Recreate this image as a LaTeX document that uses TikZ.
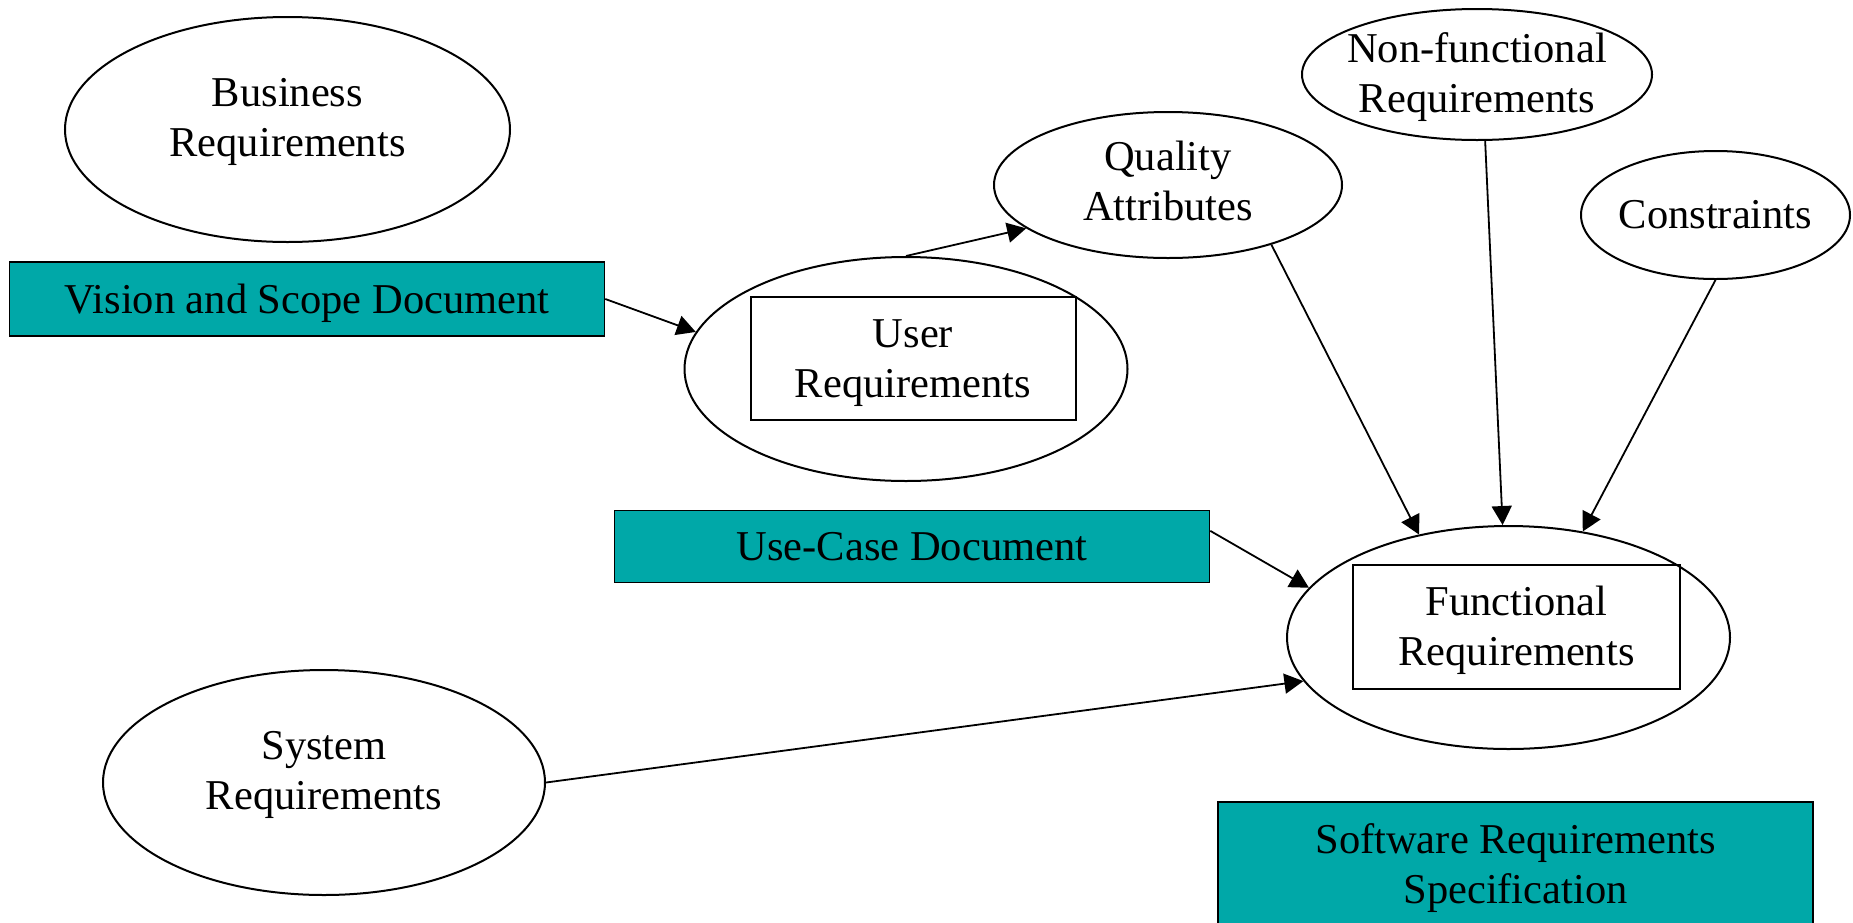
\documentclass[tikz,border=0pt]{standalone}
\usepackage{fontspec}
\setmainfont{Liberation Serif}
\usepackage{xcolor}
\usetikzlibrary{shapes.geometric,arrows.meta}

\definecolor{docteal}{RGB}{0,168,168}
% struts so that every label is centred on its letters, not on its descenders
\newcommand{\capstrut}{\rule{0pt}{19pt}}
\newcommand{\basestrut}[1][5pt]{\rule[-#1]{0pt}{#1}}

\begin{document}
\begin{tikzpicture}[x=0.5pt,y=-0.5pt]
        \tikzset{
    txt/.style={align=center, font=\fontsize{21.25}{25}\selectfont},
    req/.style={txt, ellipse, draw, line width=1pt, inner sep=-6pt},
    doc/.style={txt, rectangle, draw, line width=0.8pt, fill=docteal, minimum width=297.5pt},
    inbox/.style={txt, rectangle, draw, line width=1pt},
    flow/.style={-{Triangle[length=9.5pt,width=10pt]}, line width=0.9pt},
        }
        \useasboundingbox (0,0) rectangle (1853,922);

        % The requirement ellipses.
        \node[req, minimum width=222.5pt, minimum height=112.5pt] (business) at (287.5,129.5) {\capstrut Business\\Requirements\basestrut[17pt]};
        \node[req, minimum width=221.5pt, minimum height=112pt]   (user)     at (906,369)     {};
        \node[req, minimum width=174pt,   minimum height=73pt]    (quality)  at (1168,185)    {\capstrut Quality\\Attributes\basestrut[8.6pt]};
        \node[req, minimum width=175pt,   minimum height=65.5pt]  (nonfunc)  at (1477,74.5)   {\capstrut Non-functional\\Requirements\basestrut[6pt]};
        \node[req, minimum width=134.5pt, minimum height=64pt]    (constr)   at (1715.5,215)  {\capstrut Constraints\basestrut[6pt]};
        \node[req, minimum width=221.5pt, minimum height=111.5pt] (func)     at (1508.5,637.5) {};
        \node[req, minimum width=221pt,   minimum height=112.5pt] (system)   at (324,782.5)   {\capstrut System\\Requirements\basestrut[17pt]};

        % Boxes inside the user and functional ellipses.
        \node[inbox, minimum width=162.5pt, minimum height=61.5pt] (userbox) at (913,358.5)   {\capstrut User\\Requirements\basestrut};
        \node[inbox, minimum width=163.5pt, minimum height=62pt]   (funcbox) at (1516.5,626.5) {\capstrut Functional\\Requirements\basestrut};

        % The documents.
        \node[doc, minimum height=37pt] (vision)  at (307,299)     {\capstrut Vision and Scope Document\basestrut};
        \node[doc, minimum height=36pt] (usecase) at (912,546.5)   {\capstrut Use-Case Document\basestrut};
        \node[doc, minimum height=62pt] (srs)     at (1515.5,864)  {\capstrut Software Requirements\\Specification\basestrut};

        % Draw the arrows last.
        \draw[flow] (vision.east)  -- (user.170);
        \draw[flow] (user.north)   -- (quality.197);
        \draw[flow] (quality.-30)  -- (func.131);
        \draw[flow] (nonfunc.-83)  -- (func.93);
        \draw[flow] (constr.south) -- (func.55);
        \draw[flow] (usecase.3)    -- (func.166);
        \draw[flow] (system.east)  -- (func.192);
      \end{tikzpicture}
\end{document}
